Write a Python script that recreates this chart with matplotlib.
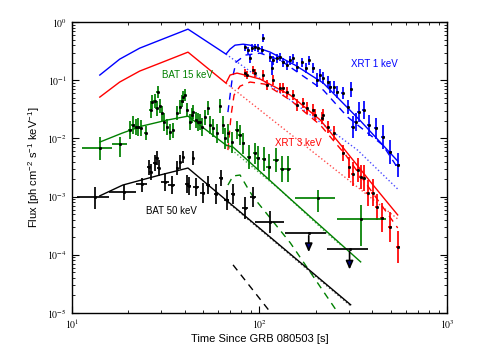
import numpy as np
import matplotlib
matplotlib.use("Agg")
import matplotlib.pyplot as plt
from matplotlib.ticker import LogLocator, FuncFormatter, NullFormatter

plt.rcParams["font.family"] = ["Liberation Sans", "DejaVu Sans"]
plt.rcParams["mathtext.fontset"] = "stix"

# ---- model curves: time [s], flux [ph cm-2 s-1 keV-1] ----
xrt1_tot_t = [14.1, 18.0, 23.0, 29.5, 41.6, 66.3, 69.7, 74.1, 81.8, 89.1, 114, 155, 219, 346, 545]
xrt1_tot_f = [0.123, 0.231, 0.357, 0.490, 0.758, 0.282, 0.343, 0.402, 0.418, 0.402, 0.305, 0.182, 0.0893, 0.0199, 0.00408]
xrt1_prompt_t = [66.3, 146, 333, 545]
xrt1_prompt_f = [0.282, 0.0457, 0.00631, 0.00135]
xrt1_ag_t = [67.9, 71.4, 75.0, 83.8, 100.8, 129, 219, 295, 454, 545]
xrt1_ag_f = [0.0284, 0.101, 0.205, 0.271, 0.293, 0.222, 0.0678, 0.0233, 0.00769, 0.00310]

xrt3_tot_t = [14.1, 18.0, 23.0, 29.5, 41.6, 66.3, 69.7, 75.9, 83.8, 100.8, 146, 211, 280, 391, 545]
xrt3_tot_f = [0.0514, 0.0933, 0.144, 0.197, 0.305, 0.0893, 0.123, 0.133, 0.123, 0.105, 0.0556, 0.0207, 0.00683, 0.00178, 0.000484]
xrt3_prompt_t = [66.3, 545]
xrt3_prompt_f = [0.0893, 0.000413]
xrt3_ag_t = [67.9, 70.6, 73.2, 78.8, 89.1, 107, 146, 211, 288, 391, 545]
xrt3_ag_f = [0.00631, 0.0252, 0.0556, 0.0793, 0.0933, 0.0858, 0.0457, 0.0170, 0.00518, 0.00130, 0.000289]

bat15_tot_t = [14.1, 18.5, 23.6, 32.2, 41.6, 66.3, 72.3, 146, 346]
bat15_tot_f = [0.00866, 0.0123, 0.0163, 0.0207, 0.0242, 0.00769, 0.00711, 0.000911, 7.54e-5]
bat15_prompt_t = [66.3, 129, 219, 270]
bat15_prompt_f = [0.00769, 0.00130, 0.000267, 0.000148]
bat15_ag_t = [67.9, 72.3, 78.8, 85.9, 92.5, 146, 260]
bat15_ag_f = [0.00158, 0.00226, 0.00235, 0.00146, 0.000989, 0.000160, 1.04e-5]

bat50_tot_t = [14.1, 18.7, 29.5, 41.6, 306]
bat50_tot_f = [0.00103, 0.00158, 0.00235, 0.00310, 1.38e-5]
bat50_prompt_t = [65.5, 306]
bat50_prompt_f = [0.000875, 1.32e-5]
bat50_ag_t = [72.3, 114]
bat50_ag_f = [6.70e-5, 1.04e-5]

# ---- data points ----
xrt1_t = [83.8, 87.0, 91.3, 94.8, 98.4, 89.1, 103, 105, 114, 118, 124, 117, 129, 134, 140,
          146, 151, 159, 169, 176, 183, 194, 203, 211, 219, 231, 239, 248, 260, 277, 295,
          306, 314, 325, 337, 359, 382, 416, 454, 495, 545]
xrt1_f = [0.371, 0.330, 0.357, 0.371, 0.357, 0.240, 0.330, 0.53, 0.250, 0.222, 0.240, 0.162,
          0.250, 0.205, 0.182, 0.222, 0.240, 0.168, 0.205, 0.162, 0.222, 0.162, 0.101, 0.123,
          0.109, 0.0933, 0.0762, 0.0762, 0.0627, 0.0602, 0.0347, 0.0706, 0.0157, 0.0191,
          0.0284, 0.0307, 0.0170, 0.0151, 0.0106, 0.00583, 0.00349]
xrt1_df = [0.06, 0.06, 0.07, 0.06, 0.07, 0.08, 0.07, 0.07, 0.08, 0.08, 0.08, 0.12, 0.07, 0.08,
           0.08, 0.08, 0.08, 0.09, 0.08, 0.09, 0.08, 0.09, 0.12, 0.10, 0.10, 0.10, 0.10, 0.10,
           0.10, 0.10, 0.12, 0.13, 0.19, 0.15, 0.17, 0.16, 0.18, 0.18, 0.20, 0.20, 0.20]
xrt1_dt = [1, 1, 1, 1, 1, 1, 1, 1, 1.5, 1.5, 1.5, 1.5, 1.5, 2, 2, 2, 2, 2, 2, 2, 2, 3, 3, 3,
           3, 3, 3, 3, 4, 4, 4, 4, 5, 5, 6, 7, 8, 10, 12, 14, 16]

xrt3_t = [83.8, 85.9, 92.5, 94.8, 105, 110, 118, 129, 134, 140, 151, 159, 171, 180, 194, 198,
          216, 219, 231, 248, 280, 299, 314, 333, 346, 359, 377, 401, 421, 449, 495, 545]
xrt3_f = [0.133, 0.123, 0.150, 0.133, 0.123, 0.0825, 0.101, 0.0734, 0.0734, 0.0627, 0.0556,
          0.0375, 0.0406, 0.0332, 0.0307, 0.0252, 0.0224, 0.0252, 0.0157, 0.0123, 0.00561,
          0.00322, 0.00245, 0.00286, 0.00217, 0.00209, 0.00116, 0.00116, 0.000663, 0.000430,
          0.000301, 0.000137]
xrt3_df = [0.07, 0.07, 0.07, 0.07, 0.08, 0.09, 0.08, 0.08, 0.08, 0.08, 0.09, 0.10, 0.09, 0.10,
           0.10, 0.10, 0.10, 0.10, 0.11, 0.12, 0.14, 0.18, 0.20, 0.20, 0.20, 0.22, 0.22, 0.23,
           0.23, 0.25, 0.26, 0.28]
xrt3_dt = [1, 1, 1, 1, 1, 1.5, 1.5, 1.5, 2, 2, 2, 2, 2, 2, 3, 3, 3, 3, 3, 3, 4, 4, 5, 5, 6, 6,
           7, 8, 9, 10, 12, 14]

bat15_t = [20.4, 21.2, 22.0, 22.5, 23.3, 24.8, 26.4, 26.7, 27.7, 28.4, 28.7, 29.5, 30.2, 31.0,
           32.2, 33.3, 34.6, 36.3, 37.7, 38.6, 39.1, 40.1, 41.1, 42.6, 43.7, 44.2, 45.9, 47.0,
           48.2, 49.4, 51.2, 53.1, 54.5, 56.6, 59.4, 61.6, 63.9, 65.5, 68.0, 71.4, 75.9, 78.8,
           81.8, 88.0, 94.8, 98.4, 106, 112, 122.5, 132, 142]
bat15_f = [0.0139, 0.0170, 0.0157, 0.0157, 0.0151, 0.0123, 0.0307, 0.0422, 0.0439, 0.0332,
           0.0626, 0.0360, 0.0273, 0.0191, 0.0157, 0.0128, 0.0139, 0.0273, 0.0347, 0.0439,
           0.0514, 0.0556, 0.0307, 0.0191, 0.0252, 0.0284, 0.0207, 0.0191, 0.0191, 0.0157,
           0.0233, 0.0332, 0.0170, 0.0151, 0.0123, 0.0360, 0.0170, 0.0101, 0.0123, 0.00866,
           0.0139, 0.0114, 0.00832, 0.00479, 0.00561, 0.00460, 0.00442, 0.00322, 0.00425,
           0.00298, 0.00298]
bat15_df = [0.15, 0.16, 0.14, 0.15, 0.14, 0.12, 0.13, 0.12, 0.12, 0.13, 0.10, 0.12, 0.13, 0.15,
            0.14, 0.14, 0.13, 0.12, 0.12, 0.11, 0.10, 0.10, 0.12, 0.14, 0.13, 0.12, 0.14, 0.15,
            0.14, 0.15, 0.13, 0.12, 0.15, 0.15, 0.16, 0.12, 0.15, 0.18, 0.16, 0.18, 0.15, 0.17,
            0.18, 0.20, 0.18, 0.20, 0.20, 0.22, 0.20, 0.22, 0.22]
bat15_dt = [0.5] * 40 + [1.5, 1.5, 1.5, 2, 2, 2, 3, 3, 4, 4, 5]

bat50_t = [25.8, 26.4, 27.7, 28.4, 29.1, 31.4, 34.1, 36.3, 37.7, 39.1, 41.1, 42.1, 44.2, 45.9,
           50.0, 53.1, 58.7, 62.4, 67.1, 72.3, 83.8, 92.5]
bat50_f = [0.00322, 0.00264, 0.00378, 0.00460, 0.00310, 0.00178, 0.00158, 0.00310, 0.00393,
           0.00479, 0.00164, 0.00152, 0.00460, 0.00146, 0.00116, 0.00158, 0.00111, 0.00209,
           0.000875, 0.00111, 0.000637, 0.000989]
bat50_df = [0.13, 0.14, 0.13, 0.12, 0.14, 0.15, 0.15, 0.12, 0.12, 0.11, 0.15, 0.16, 0.12, 0.16,
            0.17, 0.16, 0.17, 0.14, 0.18, 0.17, 0.19, 0.17]
bat50_dt = [0.5, 0.5, 0.5, 0.5, 0.5, 1.5, 1.5, 0.5, 0.5, 0.5, 1.0, 1.0, 0.5, 1.5, 1.5, 1.5,
            1.5, 1.5, 2, 2, 3, 3]

# wide time bins: t, t_lo, t_hi, f, f_lo, f_hi
bat15_wide_t = [14.1, 18.0, 205, 346]
bat15_wide_tlo = [11.3, 16.3, 155, 260]
bat15_wide_thi = [16.3, 19.7, 254, 471]
bat15_wide_f = [0.00683, 0.00800, 0.000947, 0.000413]
bat15_wide_flo = [0.00425, 0.00479, 0.000544, 0.000142]
bat15_wide_fhi = [0.0105, 0.0105, 0.00130, 0.000718]

bat50_wide_t = [13.26, 18.96, 23.6, 114]
bat50_wide_tlo = [10.63, 15.75, 22.0, 94.8]
bat50_wide_thi = [15.75, 22.0, 25.1, 135]
bat50_wide_f = [0.000985, 0.00120, 0.00164, 0.000367]
bat50_wide_flo = [0.000613, 0.000875, 0.00120, 0.000237]
bat50_wide_fhi = [0.00146, 0.00158, 0.00209, 0.000567]

# upper limits
bat50_ul_t = [183, 302]
bat50_ul_tlo = [137, 228]
bat50_ul_thi = [225, 377]
bat50_ul_f = [0.000237, 0.000126]
bat50_ul_end = [9.95e-5, 5.0e-5]


def dex(v, d):
    v = np.asarray(v, float)
    d = np.asarray(d, float)
    return [v - v / 10 ** d, v * 10 ** d - v]


fig = plt.figure(figsize=(4.85, 3.63), dpi=100)
ax = fig.add_axes([0.148, 0.138, 0.774, 0.801])
ax.set_xscale("log")
ax.set_yscale("log")

lw = 1.0
# models
for col, tot, pr, ag in [
    ("blue", (xrt1_tot_t, xrt1_tot_f), (xrt1_prompt_t, xrt1_prompt_f), (xrt1_ag_t, xrt1_ag_f)),
    ("red", (xrt3_tot_t, xrt3_tot_f), (xrt3_prompt_t, xrt3_prompt_f), (xrt3_ag_t, xrt3_ag_f)),
    ("green", (bat15_tot_t, bat15_tot_f), (bat15_prompt_t, bat15_prompt_f), (bat15_ag_t, bat15_ag_f)),
    ("black", (bat50_tot_t, bat50_tot_f), (bat50_prompt_t, bat50_prompt_f), (bat50_ag_t, bat50_ag_f)),
]:
    ax.plot(*tot, color=col, lw=lw, zorder=2)
    ax.plot(*pr, color=col, lw=lw, ls=":", alpha=0.7, zorder=2)
    ax.plot(*ag, color=col, lw=lw, ls=(0, (5, 4)), zorder=2)

# data
ekw = dict(fmt="o", ms=1.6, mfc="black", mec="black", mew=0.6, elinewidth=1.25, capsize=0, zorder=3)
ax.errorbar(xrt1_t, xrt1_f, yerr=dex(xrt1_f, xrt1_df), xerr=xrt1_dt, ecolor="blue", **ekw)
ax.errorbar(xrt3_t, xrt3_f, yerr=dex(xrt3_f, xrt3_df), xerr=xrt3_dt, ecolor="red", **ekw)
ax.errorbar(bat15_t, bat15_f, yerr=dex(bat15_f, bat15_df), xerr=bat15_dt, ecolor="green", **ekw)
ax.errorbar(bat50_t, bat50_f, yerr=dex(bat50_f, bat50_df), xerr=bat50_dt, ecolor="black", **ekw)

for t, tlo, thi, f, flo, fhi, col in [
    (bat15_wide_t, bat15_wide_tlo, bat15_wide_thi, bat15_wide_f, bat15_wide_flo, bat15_wide_fhi, "green"),
    (bat50_wide_t, bat50_wide_tlo, bat50_wide_thi, bat50_wide_f, bat50_wide_flo, bat50_wide_fhi, "black"),
]:
    t, tlo, thi = map(np.asarray, (t, tlo, thi))
    f, flo, fhi = map(np.asarray, (f, flo, fhi))
    ax.errorbar(t, f, xerr=[t - tlo, thi - t], yerr=[f - flo, fhi - f], ecolor=col, **ekw)

ult, ulf = np.asarray(bat50_ul_t), np.asarray(bat50_ul_f)
ax.errorbar(ult, ulf, xerr=[ult - np.asarray(bat50_ul_tlo), np.asarray(bat50_ul_thi) - ult],
            ecolor="black", **ekw)
for t, f, fe in zip(bat50_ul_t, bat50_ul_f, bat50_ul_end):
    ax.annotate("", xy=(t, fe), xytext=(t, f),
                arrowprops=dict(arrowstyle="-|>,head_length=0.5,head_width=0.22",
                                fc="navy", ec="black", lw=1.2), zorder=4)

# labels
ax.text(411, 0.190, "XRT 1 keV", color="blue", fontsize=7, ha="center", va="center")
ax.text(161, 0.0083, "XRT 3 keV", color="red", fontsize=7, ha="center", va="center")
ax.text(41.1, 0.123, "BAT 15 keV", color="green", fontsize=7, ha="center", va="center")
ax.text(34.1, 0.000566, "BAT 50 keV", color="black", fontsize=7, ha="center", va="center")

ax.set_xlim(10, 1000)
ax.set_ylim(1e-5, 1)
fmt = FuncFormatter(lambda v, p: r"$\mathrm{10^{%d}}$" % int(round(np.log10(v))))
for axis in (ax.xaxis, ax.yaxis):
    axis.set_major_locator(LogLocator(base=10, numticks=10))
    axis.set_minor_locator(LogLocator(base=10, subs=np.arange(2, 10), numticks=10))
    axis.set_major_formatter(fmt)
    axis.set_minor_formatter(NullFormatter())
ax.tick_params(which="both", direction="in", top=True, right=True, labelsize=7)
ax.tick_params(which="major", length=5, width=0.8)
ax.tick_params(which="minor", length=2.5, width=0.6)
for s in ax.spines.values():
    s.set_linewidth(1.0)

ax.set_xlabel("Time Since GRB 080503 [s]", fontsize=8, labelpad=2)
ax.set_ylabel(r"Flux [ph cm$^{\mathregular{-2}}$ s$^{\mathregular{-1}}$ keV$^{\mathregular{-1}}$]",
              fontsize=8, labelpad=4)

fig.savefig("out.png", dpi=100)
